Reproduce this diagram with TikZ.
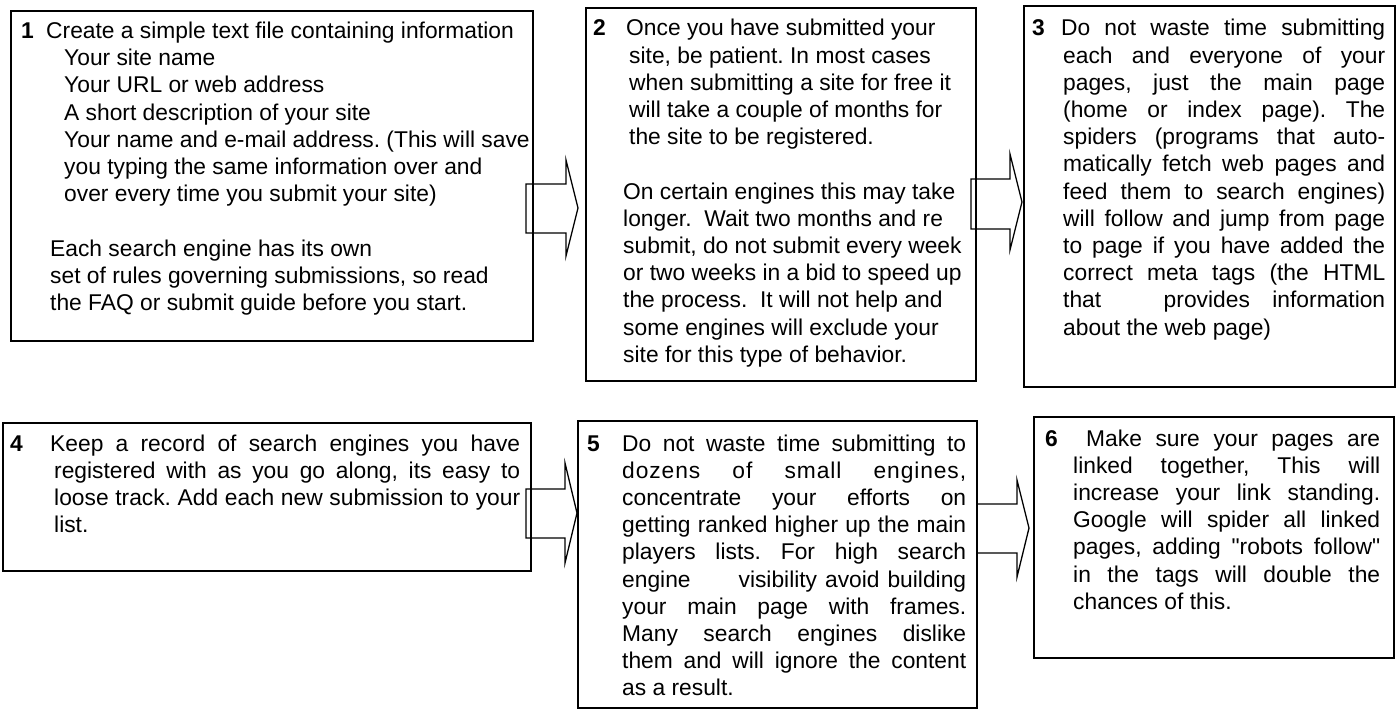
\documentclass[tikz,border=0pt]{standalone}
\usepackage{fontspec}
\setmainfont{Liberation Sans}
\frenchspacing
\newcommand\J[2]{\makebox[#1][s]{#2}}
\newcommand\qt{{\addfontfeature{Ligatures=TeXOff}\char"22\relax}}
\newcommand\btext[1]{\parbox[t]{520pt}{\setlength\parindent{0pt}\fontsize{22.8}{27.2}\selectfont #1}}
\tikzset{
  box/.style={draw, line width=2.2pt, anchor=north west, inner sep=0pt},
  num/.style={anchor=base west, inner sep=0pt, font=\fontsize{22.8}{27.2}\selectfont\bfseries},
  txt/.style={anchor=base west, inner sep=0pt},
  blockarrow/.style={draw, line width=1.3pt, line join=miter}
}
\begin{document}
\begin{tikzpicture}[x=1pt,y=-1pt]
\useasboundingbox (0,0) rectangle (1397,709);
% boxes
\node[box, minimum width=522pt, minimum height=330pt] (b1) at (10,10) {};
\node[box, minimum width=390pt, minimum height=373pt] (b2) at (585,7) {};
\node[box, minimum width=371pt, minimum height=381pt] (b3) at (1023,5) {};
\node[box, minimum width=528pt, minimum height=148pt] (b4) at (1.5,422) {};
\node[box, minimum width=399pt, minimum height=287pt] (b5) at (577,420) {};
\node[box, minimum width=360pt, minimum height=241pt] (b6) at (1033,416) {};
% arrows
\draw[blockarrow] (526,184) -- (566,184) -- (566,160) -- (578,208) -- (566,256) -- (566,233) -- (526,233) -- cycle;
\draw[blockarrow] (971,179) -- (1010,179) -- (1010,154) -- (1022,202) -- (1010,250) -- (1010,229) -- (971,229) -- cycle;
\draw[blockarrow] (526,489) -- (565,489) -- (565,463) -- (577,513) -- (565,563) -- (565,538) -- (526,538) -- cycle;
\draw[blockarrow] (977,504) -- (1017,504) -- (1017,480) -- (1029,528) -- (1017,577) -- (1017,553) -- (977,553) -- cycle;
% numbers
\node[num] (n1) at (21,38.5) {1};
\node[num] (n2) at (593,36) {2};
\node[num] (n3) at (1032,36) {3};
\node[num] (n4) at (10,451) {4};
\node[num] (n5) at (587,451) {5};
\node[num] (n6) at (1045,446) {6};
% texts
\node[txt] (t1) at (46,38.5) {\btext{%
Create a simple text file containing information\\
\hspace*{18pt}Your site name\\
\hspace*{18pt}Your URL or web address\\
\hspace*{18pt}A short description of your site\\
\hspace*{18pt}Your name and e-mail address. (This will save\\
\hspace*{18pt}you typing the same information over and\\
\hspace*{18pt}over every time you submit your site)\\
\mbox{}\\
\hspace*{4pt}Each search engine has its own\\
\hspace*{4pt}set of rules governing submissions, so read\\
\hspace*{4pt}the FAQ or submit guide before you start.}};
\node[txt] (t2) at (623,36) {\btext{%
\hspace*{3pt}Once you have submitted your\\
\hspace*{6pt}site, be patient. In most cases\\
\hspace*{6pt}when submitting a site for free it\\
\hspace*{6pt}will take a couple of months for\\
\hspace*{6pt}the site to be registered.\\
\mbox{}\\
On certain engines this may take\\
longer.\ \ Wait two months and re\\
submit, do not submit every week\\
or two weeks in a bid to speed up\\
the process.\ \ It will not help and\\
some engines will exclude your\\
site for this type of behavior.}};
\node[txt] (t3) at (1061,36) {\btext{%
\J{324pt}{Do not waste time submitting}\\
\hspace*{2pt}\J{322pt}{each and everyone of your}\\
\hspace*{2pt}\J{322pt}{pages, just the main page}\\
\hspace*{2pt}\J{322pt}{(home or index page). The}\\
\hspace*{2pt}\J{322pt}{spiders (programs that auto-}\\
\hspace*{2pt}\J{322pt}{matically fetch web pages and}\\
\hspace*{2pt}\J{322pt}{feed them to search engines)}\\
\hspace*{2pt}\J{322pt}{will follow and jump from page}\\
\hspace*{2pt}\J{322pt}{to page if you have added the}\\
\hspace*{2pt}\J{322pt}{correct meta tags (the HTML}\\
\hspace*{2pt}\J{322pt}{that\hspace{40pt} provides information}\\
\hspace*{2pt}about the web page)}};
\node[txt] (t4) at (50,451) {\btext{%
\J{470pt}{Keep a record of search engines you have}\\
\hspace*{4pt}\J{466pt}{registered with as you go along, its easy to}\\
\hspace*{4pt}\J{466pt}{loose track. Add each new submission to your}\\
\hspace*{4pt}list.}};
\node[txt] (t5) at (622,451) {\btext{%
\J{344pt}{Do not waste time submitting to}\\
\J{344pt}{\addfontfeature{LetterSpace=4}dozens of small engines,}\\
\J{344pt}{concentrate your efforts on}\\
\J{344pt}{getting ranked higher up the main}\\
\J{344pt}{players lists. For high search}\\
\J{344pt}{engine\hspace{40pt} visibility avoid building}\\
\J{344pt}{your main page with frames.}\\
\J{344pt}{Many search engines dislike}\\
\J{344pt}{them and will ignore the content}\\
as a result.}};
\node[txt] (t6) at (1073,446) {\btext{%
\hspace*{13pt}\J{294pt}{Make sure your pages are}\\
\J{307pt}{linked together, This will}\\
\J{307pt}{increase your link standing.}\\
\J{307pt}{Google will spider all linked}\\
\J{307pt}{pages, adding \qt robots follow\qt}\\
\J{307pt}{in the tags will double the}\\
chances of this.}};
\end{tikzpicture}
\end{document}
